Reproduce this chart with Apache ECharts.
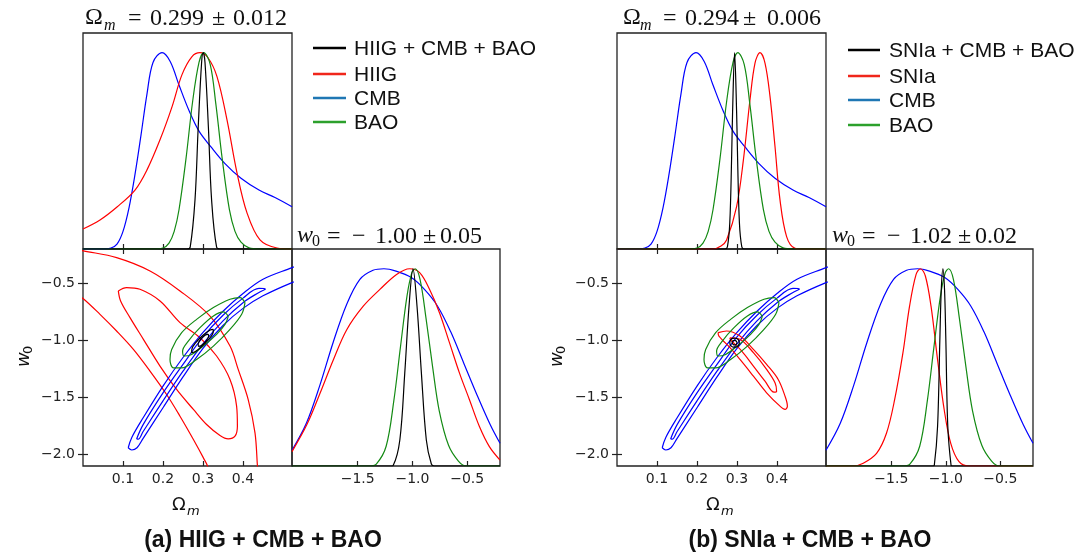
<!DOCTYPE html>
<html><head><meta charset="utf-8">
<script src="https://cdn.jsdelivr.net/npm/echarts@6/dist/echarts.min.js"></script>
<style>html,body{margin:0;padding:0;background:#fff}#c{width:1083px;height:555px}</style>
</head><body><div id="c"></div>
<script>
// ---------- tick labels ----------
const omTicks = [0.1, 0.2, 0.3, 0.4];
const w0Ticks = [-2.0, -1.5, -1.0, -0.5];
const w0XTicks = [-1.5, -1.0, -0.5];
const legendA = ['HIIG + CMB + BAO', 'HIIG', 'CMB', 'BAO'];
const legendB = ['SNIa + CMB + BAO', 'SNIa', 'CMB', 'BAO'];
const captionA = '(a) HIIG + CMB + BAO';
const captionB = '(b) SNIa + CMB + BAO';
const titleOmA = ['0.299', '0.012'];
const titleOmB = ['0.294', '0.006'];
const titleW0A = ['1.00', '0.05'];
const titleW0B = ['1.02', '0.02'];

// ---------- 1D posteriors (x, normalised density) ----------
const cmbOm = [[0,0],[0.05,0],[0.07,0.005],[0.085,0.025],[0.1,0.09],[0.115,0.21],[0.13,0.38],[0.145,0.58],[0.16,0.79],[0.175,0.95],[0.1975,1.0],[0.218,0.955],[0.24,0.835],[0.265,0.705],[0.29,0.6],[0.32,0.52],[0.355,0.435],[0.395,0.36],[0.44,0.3],[0.48,0.262],[0.5225,0.215]];
const baoOm = [[0,0],[0.18,0],[0.2,0.005],[0.215,0.03],[0.228,0.09],[0.24,0.2],[0.2575,0.46],[0.274,0.75],[0.29,0.95],[0.302,1.0],[0.318,0.94],[0.332,0.74],[0.348,0.46],[0.366,0.2],[0.38,0.09],[0.395,0.035],[0.415,0.006],[0.44,0],[0.5225,0]];
const hiigOm = [[0,0.102],[0.0425,0.148],[0.085,0.214],[0.13,0.30],[0.16,0.403],[0.1925,0.556],[0.2225,0.724],[0.2475,0.888],[0.2725,0.98],[0.2925,1.0],[0.3125,0.974],[0.335,0.878],[0.36,0.658],[0.385,0.388],[0.41,0.184],[0.4425,0.046],[0.485,0.005],[0.5225,0]];
const combAOm = [[0,0],[0.26,0],[0.268,0.01],[0.28,0.25],[0.288,0.62],[0.2965,0.95],[0.3005,1.0],[0.305,0.95],[0.3135,0.62],[0.3215,0.25],[0.334,0.01],[0.345,0],[0.5225,0]];
const snOm = [[0,0],[0.24,0],[0.26,0.015],[0.274,0.046],[0.299,0.216],[0.316,0.454],[0.3325,0.76],[0.345,0.947],[0.3575,1.0],[0.37,0.947],[0.3825,0.777],[0.395,0.522],[0.4075,0.25],[0.424,0.063],[0.445,0.003],[0.46,0],[0.5225,0]];
const combBOm = [[0,0],[0.27,0],[0.276,0.011],[0.282,0.135],[0.2865,0.46],[0.289,0.7],[0.294,1.0],[0.299,0.7],[0.3015,0.46],[0.306,0.135],[0.312,0.011],[0.318,0],[0.5225,0]];

const cmbW0 = [[-2.1,0.08],[-1.97,0.215],[-1.845,0.41],[-1.725,0.625],[-1.6,0.82],[-1.48,0.946],[-1.36,0.992],[-1.26,1.0],[-1.15,0.988],[-1.01,0.955],[-0.89,0.895],[-0.77,0.81],[-0.65,0.68],[-0.53,0.52],[-0.41,0.36],[-0.29,0.21],[-0.2,0.115]];
const baoW0 = [[-2.1,0],[-1.4,0],[-1.33,0.01],[-1.24,0.1],[-1.17,0.33],[-1.11,0.6],[-1.05,0.86],[-1.005,0.98],[-0.975,1.0],[-0.93,0.945],[-0.876,0.75],[-0.815,0.5],[-0.755,0.28],[-0.67,0.105],[-0.58,0.025],[-0.51,0],[-0.2,0]];
const hiigW0 = [[-2.1,0.073],[-1.964,0.21],[-1.843,0.37],[-1.722,0.539],[-1.6,0.691],[-1.449,0.81],[-1.297,0.895],[-1.145,0.971],[-1.025,1.0],[-0.934,0.98],[-0.843,0.895],[-0.752,0.776],[-0.661,0.624],[-0.57,0.471],[-0.479,0.336],[-0.388,0.2],[-0.297,0.098],[-0.2,0.03]];
const combAW0 = [[-2.1,0],[-1.2,0],[-1.176,0.003],[-1.115,0.132],[-1.07,0.471],[-1.031,0.81],[-0.995,1.0],[-0.958,0.81],[-0.918,0.471],[-0.873,0.132],[-0.827,0.01],[-0.8,0],[-0.2,0]];
const snW0 = [[-2.1,0],[-1.85,0],[-1.758,0.014],[-1.636,0.064],[-1.545,0.166],[-1.47,0.336],[-1.394,0.573],[-1.333,0.81],[-1.273,0.971],[-1.233,1.0],[-1.188,0.963],[-1.136,0.81],[-1.076,0.539],[-1.015,0.285],[-0.955,0.115],[-0.879,0.022],[-0.79,0],[-0.2,0]];
const combBW0 = [[-2.1,0],[-1.12,0],[-1.106,0.003],[-1.076,0.2],[-1.055,0.64],[-1.042,0.895],[-1.027,1.0],[-1.012,0.895],[-1.0,0.64],[-0.982,0.2],[-0.952,0.003],[-0.94,0],[-0.2,0]];

// ---------- 2D contours (Omega_m, w0) ----------
const cmbOuter = [[0.113,-1.94],[0.122,-1.85],[0.15,-1.68],[0.20,-1.40],[0.25,-1.15],[0.30,-0.93],[0.35,-0.745],[0.40,-0.59],[0.45,-0.465],[0.5225,-0.363],[0.58,-0.28],[0.58,-0.42],[0.5225,-0.494],[0.45,-0.61],[0.40,-0.72],[0.35,-0.87],[0.30,-1.07],[0.25,-1.32],[0.20,-1.59],[0.15,-1.86],[0.135,-1.94],[0.122,-1.96],[0.113,-1.94]];
const cmbInner = [[0.134,-1.863],[0.15,-1.74],[0.20,-1.46],[0.25,-1.21],[0.30,-0.97],[0.35,-0.78],[0.40,-0.63],[0.44,-0.545],[0.456,-0.55],[0.44,-0.58],[0.40,-0.67],[0.35,-0.83],[0.30,-1.03],[0.25,-1.27],[0.20,-1.53],[0.15,-1.80],[0.138,-1.865],[0.134,-1.863]];
const baoOuter = [[0.405,-0.67],[0.3925,-0.626],[0.3675,-0.64],[0.326,-0.713],[0.284,-0.816],[0.2467,-0.933],[0.2217,-1.079],[0.2175,-1.167],[0.226,-1.24],[0.2467,-1.24],[0.284,-1.167],[0.326,-1.05],[0.3675,-0.904],[0.3967,-0.772],[0.405,-0.67]];
const baoInner = [[0.3633,-0.79],[0.351,-0.751],[0.326,-0.787],[0.2925,-0.889],[0.2633,-1.006],[0.249,-1.094],[0.2525,-1.137],[0.2717,-1.123],[0.3008,-1.05],[0.334,-0.947],[0.355,-0.86],[0.3633,-0.79]];
const hiigOuter = [[-0.06,-0.17],[0.0008,-0.216],[0.084,-0.275],[0.1675,-0.392],[0.2425,-0.567],[0.3175,-0.787],[0.3675,-1.05],[0.388,-1.254],[0.413,-1.518],[0.43,-1.81],[0.436,-2.096],[0.44,-2.3],[0.32,-2.3],[0.313,-2.117],[0.301,-2.029],[0.276,-1.868],[0.2425,-1.664],[0.209,-1.474],[0.1675,-1.269],[0.126,-1.079],[0.084,-0.918],[0.0425,-0.772],[0.0008,-0.635],[-0.06,-0.47],[-0.06,-0.17]];
const hiigInner = [[0.0883,-0.567],[0.109,-0.538],[0.1425,-0.553],[0.1925,-0.655],[0.2425,-0.845],[0.2925,-0.977],[0.334,-1.137],[0.3675,-1.342],[0.384,-1.576],[0.386,-1.751],[0.38,-1.839],[0.363,-1.863],[0.3425,-1.833],[0.309,-1.737],[0.276,-1.605],[0.234,-1.43],[0.1925,-1.225],[0.151,-0.991],[0.1175,-0.801],[0.094,-0.655],[0.0883,-0.567]];
const snOuter = [[0.253,-0.932],[0.274,-0.918],[0.3075,-0.962],[0.341,-1.079],[0.374,-1.21],[0.403,-1.342],[0.42,-1.488],[0.426,-1.576],[0.42,-1.605],[0.4075,-1.576],[0.374,-1.459],[0.341,-1.313],[0.3075,-1.167],[0.2825,-1.064],[0.262,-0.991],[0.253,-0.947],[0.253,-0.932]];
const snInner = [[0.2825,-0.977],[0.3075,-0.991],[0.341,-1.108],[0.374,-1.254],[0.395,-1.371],[0.399,-1.445],[0.3925,-1.453],[0.37,-1.357],[0.341,-1.225],[0.312,-1.094],[0.291,-1.02],[0.2825,-0.985],[0.2825,-0.977]];
const combAOuter = [[0.326,-0.904],[0.318,-0.91],[0.300,-0.955],[0.282,-1.02],[0.272,-1.08],[0.2717,-1.108],[0.28,-1.10],[0.298,-1.05],[0.316,-0.985],[0.325,-0.935],[0.326,-0.904]];
const combAInner = [[0.313,-0.945],[0.305,-0.955],[0.293,-0.995],[0.288,-1.035],[0.289,-1.052],[0.296,-1.045],[0.308,-1.005],[0.314,-0.965],[0.313,-0.945]];
const combBOuter = [[0.306,-1.02],[0.303,-0.992],[0.294,-0.98],[0.285,-0.99],[0.282,-1.02],[0.285,-1.048],[0.294,-1.06],[0.303,-1.05],[0.306,-1.02]];
const combBInner = [[0.300,-1.02],[0.298,-1.006],[0.294,-1.0],[0.289,-1.005],[0.288,-1.02],[0.29,-1.034],[0.294,-1.04],[0.298,-1.035],[0.300,-1.02]];

// ---------- styling ----------
const C = {black:'#000000', red:'#ff0000', blue:'#0000ff', green:'#138a13'};
const LC = {black:'#000000', red:'#f0261b', blue:'#1f77b4', green:'#2ca02c'};
const OM = [0, 0.5225], W0 = [-2.1, -0.2];
const AX = '#222';
const fmt = v => (v < 0 ? '\u2212' : '') + Math.abs(v).toFixed(1);

const grids = [
  {left:83, top:33, width:209, height:216},
  {left:83, top:249, width:209, height:217},
  {left:292, top:249, width:208, height:217},
  {left:617, top:33, width:209, height:216},
  {left:617, top:249, width:209, height:217},
  {left:826, top:249, width:207, height:217}
].map(g => Object.assign({show:true, borderColor:AX, borderWidth:1.3, backgroundColor:'transparent'}, g));

function axis(gi, pos, range, ticks, labels) {
  return {type:'value', gridIndex:gi, position:pos, min:range[0], max:range[1],
    axisLine:{show:false}, splitLine:{show:false},
    axisTick:{show:true, inside:true, length:5, customValues:ticks, lineStyle:{color:AX, width:1.2}},
    axisLabel:{show:labels, customValues:ticks, formatter:fmt, color:'#222', fontSize:14,
      fontFamily:'DejaVu Sans', margin:(pos==='left'||pos==='right')?8:6}};
}
function dens(gi) { return {type:'value', gridIndex:gi, min:0, max:1.1, show:false}; }

const xAxis = [], yAxis = [];
// panel a
xAxis.push(axis(0,'bottom',OM,omTicks,false)); yAxis.push(dens(0));
xAxis.push(axis(1,'bottom',OM,omTicks,true));  yAxis.push(axis(1,'left',W0,w0Ticks,true));
xAxis.push(axis(1,'top',OM,omTicks,false));    yAxis.push(axis(1,'right',W0,w0Ticks,false));
xAxis.push(axis(2,'bottom',W0,w0XTicks,true)); yAxis.push(dens(2));
// panel b
xAxis.push(axis(3,'bottom',OM,omTicks,false)); yAxis.push(dens(3));
xAxis.push(axis(4,'bottom',OM,omTicks,true));  yAxis.push(axis(4,'left',W0,w0Ticks,true));
xAxis.push(axis(4,'top',OM,omTicks,false));    yAxis.push(axis(4,'right',W0,w0Ticks,false));
xAxis.push(axis(5,'bottom',W0,w0XTicks,true)); yAxis.push(dens(5));

function ln(data, color, xi, yi) {
  return {type:'line', data, xAxisIndex:xi, yAxisIndex:yi, showSymbol:false, symbol:'none',
    smooth:0.35, clip:true, silent:true, lineStyle:{color, width:1.2}};
}
const series = [
  ln(cmbOm,C.blue,0,0), ln(hiigOm,C.red,0,0), ln(baoOm,C.green,0,0), ln(combAOm,C.black,0,0),
  ln(hiigOuter,C.red,1,1), ln(hiigInner,C.red,1,1), ln(cmbOuter,C.blue,1,1), ln(cmbInner,C.blue,1,1),
  ln(baoOuter,C.green,1,1), ln(baoInner,C.green,1,1), ln(combAOuter,C.black,1,1), ln(combAInner,C.black,1,1),
  ln(cmbW0,C.blue,3,3), ln(hiigW0,C.red,3,3), ln(baoW0,C.green,3,3), ln(combAW0,C.black,3,3),
  ln(cmbOm,C.blue,4,4), ln(snOm,C.red,4,4), ln(baoOm,C.green,4,4), ln(combBOm,C.black,4,4),
  ln(cmbOuter,C.blue,5,5), ln(cmbInner,C.blue,5,5), ln(snOuter,C.red,5,5), ln(snInner,C.red,5,5),
  ln(baoOuter,C.green,5,5), ln(baoInner,C.green,5,5), ln(combBOuter,C.black,5,5), ln(combBInner,C.black,5,5),
  ln(cmbW0,C.blue,7,7), ln(snW0,C.red,7,7), ln(baoW0,C.green,7,7), ln(combBW0,C.black,7,7)
];

// ---------- text graphics ----------
const SERIF = '"Liberation Serif", "DejaVu Serif", serif';
const SANS = '"Liberation Sans", Arial, sans-serif';
const MATH = '"DejaVu Sans", sans-serif';
function txt(x, y, text, font, align) {
  return {type:'text', x, y, silent:true, style:{text, font, fill:'#111', align:align||'left', verticalAlign:'middle',
    textAlign:align||'left', textVerticalAlign:'middle'}};
}
const graphics = [];
const TF = '24px ' + SERIF;
function omTitle(parts, nums) {
  graphics.push(txt(parts[0], 18, '\u03A9', TF));
  graphics.push(txt(parts[1], 26, 'm', 'italic 16px ' + SERIF));
  graphics.push(txt(parts[2], 19, '=', TF));
  graphics.push(txt(parts[3], 19, nums[0], TF));
  graphics.push(txt(parts[4], 19, '\u00B1', TF));
  graphics.push(txt(parts[5], 19, nums[1], TF));
}
function w0Title(parts, nums) {
  graphics.push(txt(parts[0], 236, 'w', 'italic ' + TF));
  graphics.push(txt(parts[1], 242, '0', '16px ' + SERIF));
  graphics.push(txt(parts[2], 237, '=', TF));
  graphics.push(txt(parts[3], 237, '\u2212', TF));
  graphics.push(txt(parts[4], 237, nums[0], TF));
  graphics.push(txt(parts[5], 237, '\u00B1', TF));
  graphics.push(txt(parts[6], 237, nums[1], TF));
}
omTitle([85, 104, 128, 150, 212, 233], titleOmA);
omTitle([623, 640, 663, 685, 743, 767], titleOmB);
w0Title([297, 312, 327, 352, 375, 423, 440], titleW0A);
w0Title([832, 847, 862, 887, 910, 958, 975], titleW0B);

function legend(x1, x2, tx, ys, labels) {
  const cols = [LC.black, LC.red, LC.blue, LC.green];
  labels.forEach((l, i) => {
    graphics.push({type:'line', silent:true, shape:{x1, y1:ys[i], x2, y2:ys[i]}, style:{stroke:cols[i], lineWidth:2.5}});
    graphics.push(txt(tx, ys[i] + 1, l, '21px ' + SANS));
  });
}
legend(313, 346, 354, [48, 74, 98, 122], legendA);
legend(848, 880, 889, [50, 76, 100, 125], legendB);

function xName(x) {
  graphics.push(txt(x, 505, '\u03A9', '18px ' + MATH));
  graphics.push(txt(x + 15, 512, 'm', 'italic 13px ' + MATH));
}
xName(172); xName(706);
function yName(x) {
  graphics.push({type:'group', x, y:358, rotation:Math.PI/2, silent:true, children:[
    txt(-9, 0, 'w', 'italic 18px ' + MATH),
    txt(4, 5, '0', '13px ' + MATH)
  ]});
}
yName(24); yName(557);

graphics.push(txt(263, 541, captionA, 'bold 23px ' + SANS, 'center'));
graphics.push(txt(810, 541, captionB, 'bold 23px ' + SANS, 'center'));

const chart = echarts.init(document.getElementById('c'));
chart.setOption({animation:false, backgroundColor:'#fff', grid:grids, xAxis, yAxis, series, graphic:graphics});
</script></body></html>
